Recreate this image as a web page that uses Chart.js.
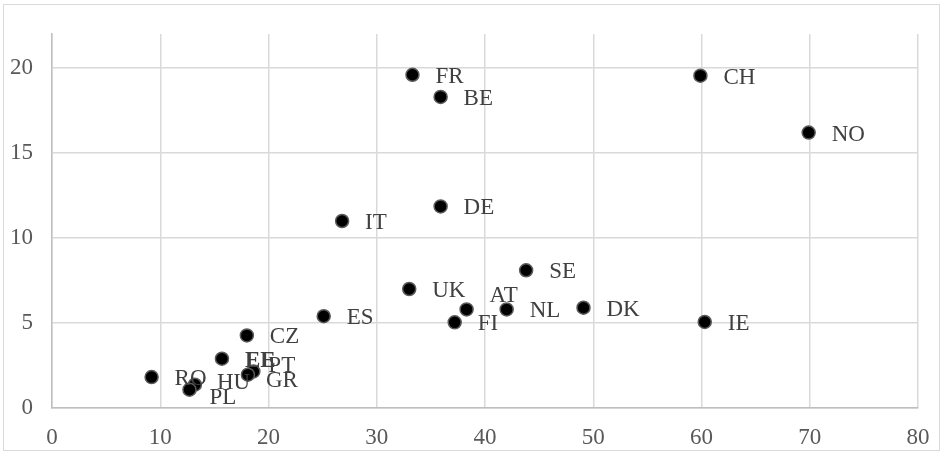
<!DOCTYPE html>
<html>
<head>
<meta charset="utf-8">
<script src="https://cdn.jsdelivr.net/npm/chart.js@4"></script>
<style>
body{margin:0;background:#fff}
#frame{position:absolute;left:3px;top:4px;width:935px;height:445px;border:1px solid #d9d9d9}
#scatterChart{position:absolute;left:0;top:0}
</style>
</head>
<body>
<div id="frame"></div>
<canvas id="scatterChart" width="943" height="453"></canvas>
<script>
const countries = ['FR','BE','CH','NO','IT','DE','ES','CZ','IE','UK','AT','FI','NL','SE','DK','RO','HU','PL','EE','PT','GR']
const xValues = [33.3,35.9,59.9,69.9,26.8,35.9,25.1,18.0,60.3,33.0,38.3,37.2,42.0,43.8,49.1,9.2,13.2,12.7,15.7,18.6,18.1]
const yValues = [19.6,18.3,19.55,16.2,11.0,11.86,5.4,4.27,5.06,7.0,5.8,5.04,5.8,8.1,5.9,1.82,1.37,1.08,2.9,2.15,1.96]
const xTicks = [0,10,20,30,40,50,60,70,80]
const yTicks = [0,5,10,15,20]

// labels that Excel pushed away from the default right-hand spot
const labelNudge = {
    AT: [0, -15],
    PL: [-3, 6],
    PT: [-8, -7],
    GR: [-5, 4],
    HU: [-1, -4]
}

const font = '"Liberation Serif", "Times New Roman", serif'

const pointLabels = {
    id: 'pointLabels',
    afterDatasetsDraw(chart) {
        const ctx = chart.ctx
        const meta = chart.getDatasetMeta(0)
        ctx.save()
        ctx.fillStyle = '#404040'
        ctx.textBaseline = 'middle'
        meta.data.forEach((pt, i) => {
            const name = countries[i]
            const nudge = labelNudge[name] || [0, 0]
            ctx.font = (name === 'EE' ? 'bold ' : '') + '23px ' + font
            ctx.fillText(name, pt.x + 23 + nudge[0], pt.y + 2 + nudge[1])
        })
        ctx.restore()
    }
}

const points = xValues.map((x, i) => ({x: x, y: yValues[i]}))

const ctx = document.getElementById('scatterChart').getContext('2d')
new Chart(ctx, {
    type: 'scatter',
    data: {
        datasets: [{
            data: points,
            backgroundColor: '#000',
            borderColor: '#5a5a5a',
            borderWidth: 1.5,
            pointRadius: 6.5,
            pointHoverRadius: 6.5
        }]
    },
    options: {
        responsive: false,
        devicePixelRatio: 1,
        animation: false,
        layout: {padding: {top: 34, right: 25, left: 0, bottom: 0}},
        plugins: {legend: {display: false}, tooltip: {enabled: false}},
        scales: {
            x: {
                type: 'linear',
                min: 0,
                max: 80,
                afterBuildTicks: s => { s.ticks = xTicks.map(v => ({value: v})) },
                afterFit: s => {
                    s.height = 45
                    s.paddingLeft = 0
                    s.paddingRight = 12
                },
                grid: {color: '#d9d9d9', lineWidth: 1.5, drawTicks: false},
                border: {color: '#bfbfbf', width: 1.5},
                ticks: {color: '#595959', font: {family: font, size: 23}, padding: 16, maxRotation: 0}
            },
            y: {
                type: 'linear',
                min: 0,
                max: 22,
                afterBuildTicks: s => { s.ticks = yTicks.map(v => ({value: v})) },
                afterFit: s => { s.width = 52 },
                grid: {color: '#d9d9d9', lineWidth: 1.5, drawTicks: false},
                border: {color: '#bfbfbf', width: 1.5},
                ticks: {color: '#595959', font: {family: font, size: 23}, padding: 19}
            }
        }
    },
    plugins: [pointLabels]
})
</script>
</body>
</html>
